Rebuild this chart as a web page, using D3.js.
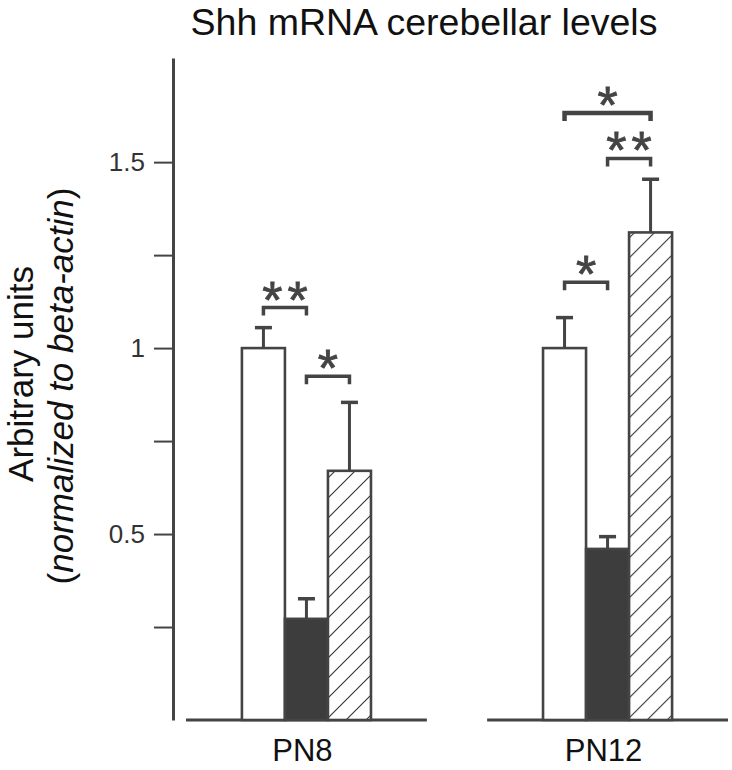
<!DOCTYPE html>
<html>
<head>
<meta charset="utf-8">
<script src="https://cdn.jsdelivr.net/npm/d3@7"></script>
<style>
  html, body { margin: 0; padding: 0; background: #fff; }
  svg { display: block; }
  text { font-family: "Liberation Sans", Arial, sans-serif; }
</style>
</head>
<body>
<svg id="chart" width="732" height="770"></svg>
<script>
// ---- data ----
const groups = ["PN8", "PN12"];
const series = ["control", "treatedA", "treatedB"];
const meanPN8 = [1.0, 0.272, 0.67];
const errPN8 = [1.055, 0.326, 0.854];
const meanPN12 = [1.0, 0.46, 1.311];
const errPN12 = [1.082, 0.493, 1.454];
const tickValues = [0.25, 0.5, 0.75, 1, 1.25, 1.5];
const tickLabels = ["", "0.5", "", "1", "", "1.5"];
// significance brackets: group index, from series index, to series index, y level (value), label
const bracketGroup = [0, 0, 1, 1, 1];
const bracketFrom = [0, 1, 0, 1, 0];
const bracketTo = [1, 2, 1, 2, 2];
const bracketLevel = [1.109, 0.924, 1.177, 1.51, 1.632];
const bracketLabel = ["**", "*", "*", "**", "*"];

const means = [meanPN8, meanPN12];
const errs = [errPN8, errPN12];

const svg = d3.select("#chart");
const ink = "#444";

// hatch pattern
const defs = svg.append("defs");
const pat = defs.append("pattern")
  .attr("id", "hatch").attr("patternUnits", "userSpaceOnUse")
  .attr("width", 20).attr("height", 20);
pat.append("rect").attr("width", 20).attr("height", 20).attr("fill", "#fff");
pat.append("path").attr("d", "M-5,5 L5,-5 M0,20 L20,0 M15,25 L25,15")
  .attr("stroke", "#333").attr("stroke-width", 1.1);

const y = d3.scaleLinear().domain([0, 1.78]).range([720, 58]);
const x0 = d3.scaleBand().domain(groups).range([186, 728]).paddingInner(0.2).paddingOuter(0);
const x1 = d3.scaleBand().domain(series).range([0, x0.bandwidth()]).paddingInner(0).paddingOuter(1.3);

// title
svg.append("text").attr("x", 424).attr("y", 35).attr("text-anchor", "middle")
  .attr("font-size", 37.5).attr("fill", "#111").text("Shh mRNA cerebellar levels");

// y axis
const yAxis = d3.axisLeft(y).tickValues(tickValues)
  .tickFormat((d, i) => tickLabels[i]).tickSize(19).tickSizeOuter(0).tickPadding(9);
const gy = svg.append("g").attr("transform", "translate(173,0)").call(yAxis);
gy.select(".domain").attr("stroke", ink).attr("stroke-width", 3);
gy.selectAll(".tick line").attr("stroke", ink).attr("stroke-width", 2);
gy.selectAll(".tick text").attr("font-size", 26).attr("fill", "#333")
  .attr("font-family", "'Open Sans', 'Liberation Sans', sans-serif");

// y axis title
const yt = svg.append("g").attr("transform", "translate(33,374) rotate(-90)");
yt.append("text").attr("text-anchor", "middle").attr("font-size", 35).attr("fill", "#111")
  .text("Arbitrary units");
const yt2 = svg.append("g").attr("transform", "translate(73,386) rotate(-90)");
const t2 = yt2.append("text").attr("text-anchor", "middle").attr("font-size", 35).attr("fill", "#111");
t2.append("tspan").text("(");
t2.append("tspan").attr("font-style", "italic").text("normalized to beta-actin");
t2.append("tspan").text(")");

// groups
groups.forEach((g, gi) => {
  const gx = x0(g);
  const G = svg.append("g").attr("transform", `translate(${gx},0)`);
  // baseline segment
  G.append("line").attr("x1", 0).attr("x2", x0.bandwidth())
    .attr("y1", y(0)).attr("y2", y(0)).attr("stroke", ink).attr("stroke-width", 3);
  series.forEach((s, si) => {
    const v = means[gi][si];
    const e = errs[gi][si];
    const bx = x1(s), bw = x1.bandwidth();
    const cx = bx + bw / 2;
    // error bar
    G.append("line").attr("x1", cx).attr("x2", cx).attr("y1", y(v)).attr("y2", y(e))
      .attr("stroke", ink).attr("stroke-width", 3);
    G.append("line").attr("x1", cx - 8.5).attr("x2", cx + 8.5).attr("y1", y(e)).attr("y2", y(e))
      .attr("stroke", ink).attr("stroke-width", 3.5);
    // bar
    const fill = si === 0 ? "#fff" : si === 1 ? "#3d3d3d" : "url(#hatch)";
    G.append("rect").attr("x", bx).attr("y", y(v)).attr("width", bw)
      .attr("height", y(0) - y(v)).attr("fill", fill)
      .attr("stroke", ink).attr("stroke-width", 2.6);
  });
});

// brackets
bracketLevel.forEach((lv, i) => {
  const g = groups[bracketGroup[i]];
  const xa = x0(g) + x1(series[bracketFrom[i]]) + x1.bandwidth() / 2;
  const xb = x0(g) + x1(series[bracketTo[i]]) + x1.bandwidth() / 2;
  const yy = y(lv);
  const multi = bracketLabel[i].length > 1;
  svg.append("path").attr("d", `M${xa},${yy + 8} V${yy} H${xb} V${yy + 8}`)
    .attr("fill", "none").attr("stroke", ink).attr("stroke-width", i === 4 ? 4.5 : 3.5);
  svg.append("text").attr("x", (xa + xb) / 2 + (multi ? 2.5 : 0)).attr("y", yy + 10)
    .attr("text-anchor", "middle").attr("font-size", 52).attr("fill", ink)
    .attr("font-family", "'DejaVu Sans', sans-serif")
    .attr("stroke", ink).attr("stroke-width", 0.8)
    .attr("letter-spacing", multi ? 5 : 0)
    .text(bracketLabel[i]);
});

// x labels
groups.forEach(g => {
  svg.append("text").attr("x", x0(g) + x0.bandwidth() / 2 - 4).attr("y", 761)
    .attr("text-anchor", "middle").attr("font-size", 31).attr("fill", "#111").text(g);
});
</script>
</body>
</html>
